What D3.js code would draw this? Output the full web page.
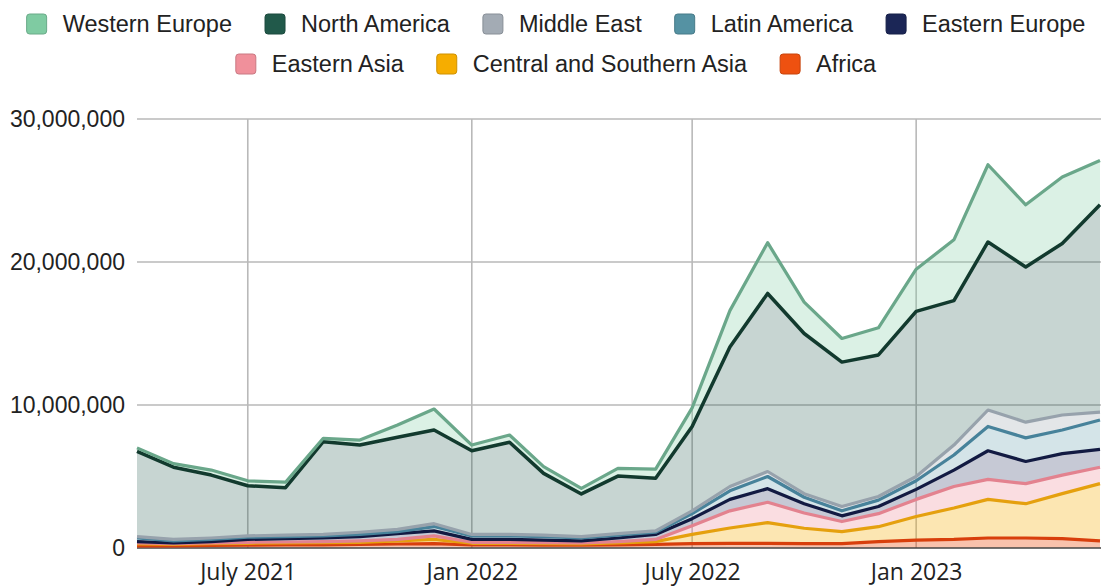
<!DOCTYPE html>
<html><head><meta charset="utf-8">
<script src="https://cdn.jsdelivr.net/npm/d3@7"></script>
<style>body{margin:0;background:#fff}svg{display:block}</style>
</head><body>
<svg id="chart" width="1101" height="588"></svg>
<script>
// Monthly data points (values in millions)
const months = ["2021-04","2021-05","2021-06","2021-07","2021-08","2021-09","2021-10","2021-11","2021-12",
  "2022-01","2022-02","2022-03","2022-04","2022-05","2022-06","2022-07","2022-08","2022-09","2022-10","2022-11","2022-12",
  "2023-01","2023-02","2023-03","2023-04","2023-05","2023-06"];
const africa        = [0.15,0.15,0.18,0.20,0.22,0.22,0.25,0.28,0.30,0.22,0.22,0.20,0.20,0.22,0.25,0.30,0.32,0.33,0.30,0.30,0.45,0.55,0.60,0.70,0.70,0.65,0.50];
const centralSouthAsia = [0.13,0.10,0.12,0.13,0.13,0.15,0.15,0.22,0.30,0.11,0.11,0.10,0.08,0.13,0.20,0.65,1.08,1.44,1.08,0.84,1.04,1.65,2.20,2.70,2.40,3.15,4.00];
const easternAsia   = [0.07,0.05,0.05,0.07,0.07,0.08,0.10,0.10,0.25,0.07,0.07,0.08,0.07,0.10,0.15,0.60,1.20,1.43,1.07,0.71,0.91,1.20,1.50,1.40,1.40,1.30,1.15];
const easternEurope = [0.10,0.05,0.10,0.20,0.23,0.25,0.30,0.40,0.35,0.20,0.20,0.17,0.15,0.25,0.35,0.50,0.80,0.95,0.65,0.40,0.50,0.70,1.15,2.00,1.55,1.50,1.25];
const latinAmerica  = [0.25,0.15,0.15,0.15,0.15,0.15,0.15,0.15,0.30,0.25,0.25,0.25,0.20,0.20,0.15,0.35,0.60,0.85,0.45,0.35,0.45,0.60,1.05,1.70,1.65,1.65,2.05];
const middleEast    = [0.10,0.10,0.10,0.10,0.10,0.10,0.15,0.15,0.20,0.10,0.10,0.10,0.10,0.10,0.10,0.20,0.30,0.35,0.25,0.30,0.25,0.30,0.70,1.15,1.10,1.05,0.55];
const northAmerica  = [5.95,5.05,4.40,3.50,3.32,6.48,6.10,6.45,6.55,5.85,6.45,4.32,2.98,4.03,3.67,5.90,9.75,12.45,11.20,10.10,9.90,11.55,10.10,11.75,10.85,12.00,14.50];
const westernEurope = [0.25,0.25,0.35,0.35,0.38,0.24,0.35,0.85,1.47,0.40,0.50,0.47,0.39,0.54,0.65,1.30,2.55,3.55,2.20,1.65,1.90,2.95,4.25,5.40,4.35,4.65,3.10];

const seriesNames = ["Africa","Central and Southern Asia","Eastern Asia","Eastern Europe","Latin America","Middle East","North America","Western Europe"];
const seriesValues = [africa,centralSouthAsia,easternAsia,easternEurope,latinAmerica,middleEast,northAmerica,westernEurope];
const legendOrder = ["Western Europe","North America","Middle East","Latin America","Eastern Europe","Eastern Asia","Central and Southern Asia","Africa"];
const legendRows = [5,3];
const yTicks = [0,10000000,20000000,30000000];
const xTickDates = ["2021-07","2022-01","2022-07","2023-01"];
const xTickLabels = ["July 2021","Jan 2022","July 2022","Jan 2023"];

const swatch = {"Western Europe":"#7fcba2","North America":"#21594a","Middle East":"#a3abb4","Latin America":"#5592a3",
  "Eastern Europe":"#1b2656","Eastern Asia":"#f0909b","Central and Southern Asia":"#f6ad00","Africa":"#ee5110"};
const lineCol = {"Western Europe":"#6aa78a","North America":"#123a2e","Middle East":"#97a2ac","Latin America":"#47829a",
  "Eastern Europe":"#121a42","Eastern Asia":"#e3828f","Central and Southern Asia":"#e5a00e","Africa":"#d83f0c"};
const fillOp = {"Western Europe":0.28,"North America":0.25,"Middle East":0.3,"Latin America":0.25,
  "Eastern Europe":0.25,"Eastern Asia":0.3,"Central and Southern Asia":0.3,"Africa":0.35};

const parse = d3.timeParse("%Y-%m");
const table = months.map((m,i)=>{const r={date:parse(m)}; seriesNames.forEach((s,k)=>r[s]=seriesValues[k][i]*1e6); return r;});

const svg = d3.select("#chart");
const L=137, R=1100, T=119, B=548;
const x = d3.scaleTime().domain(d3.extent(table,d=>d.date)).range([L,R]);
const y = d3.scaleLinear().domain([0,30000000]).range([B,T]);

// grid
svg.append("g").selectAll("line").data(yTicks.filter(v=>v>0)).join("line")
  .attr("x1",L).attr("x2",1101).attr("y1",d=>y(d)).attr("y2",d=>y(d))
  .attr("stroke","#b9b9b9").attr("stroke-width",1.6);
svg.append("g").selectAll("line").data(xTickDates.map(parse)).join("line")
  .attr("x1",d=>x(d)).attr("x2",d=>x(d)).attr("y1",T).attr("y2",B)
  .attr("stroke","#b9b9b9").attr("stroke-width",1.6);

const stack = d3.stack().keys(seriesNames)(table);
const area = d3.area().x(d=>x(d.data.date)).y0(d=>y(d[0])).y1(d=>y(d[1]));
const line = d3.line().x(d=>x(d.data.date)).y(d=>y(d[1]));

svg.append("g").selectAll("path").data(stack).join("path")
  .attr("d",area).attr("fill",d=>swatch[d.key]).attr("fill-opacity",d=>fillOp[d.key]);

// baseline
svg.append("line").attr("x1",L).attr("x2",1101).attr("y1",B).attr("y2",B).attr("stroke","#444").attr("stroke-width",1.5);

svg.append("g").selectAll("path").data(stack).join("path")
  .attr("d",line).attr("fill","none").attr("stroke",d=>lineCol[d.key])
  .attr("stroke-width",d=>d.key==="North America"?3.5:3.2).attr("stroke-linejoin","round");

// y axis
const ya = svg.append("g").attr("transform",`translate(${L},0)`)
  .call(d3.axisLeft(y).tickValues(yTicks).tickFormat(d3.format(",")).tickSize(0).tickPadding(12));
ya.select(".domain").remove();
ya.selectAll("text").attr("font-family","'Liberation Sans',Arial,sans-serif").attr("font-size",23).attr("fill","#222");

// x axis
const xa = svg.append("g").attr("transform",`translate(0,${B})`)
  .call(d3.axisBottom(x).tickValues(xTickDates.map(parse)).tickFormat((d,i)=>xTickLabels[i]).tickSize(0));
xa.select(".domain").remove();
xa.selectAll("text").attr("dy",null).attr("y",32).attr("font-family","'Open Sans',sans-serif").attr("font-size",23).attr("fill","#222");

// legend
const lg = svg.append("g").attr("font-family","'Liberation Sans',Arial,sans-serif").attr("font-size",23.5).attr("fill","#222");
let idx=0;
legendRows.forEach((n,row)=>{
  const names = legendOrder.slice(idx, idx+n); idx+=n;
  const cy = row===0?24:64;
  const g = lg.append("g");
  let cx=0;
  names.forEach((nm,j)=>{
    g.append("rect").attr("x",cx).attr("y",cy-10).attr("width",20).attr("height",20).attr("rx",3)
      .attr("fill",swatch[nm]).attr("stroke",d3.color(swatch[nm]).darker(0.5)).attr("stroke-width",1);
    const t = g.append("text").attr("x",cx+36).attr("y",cy).attr("dy","0.35em").text(nm);
    cx += 36 + t.node().getComputedTextLength() + (j<names.length-1?33:0);
  });
  g.attr("transform",`translate(${556 - cx/2},0)`);
});
</script>
</body></html>
